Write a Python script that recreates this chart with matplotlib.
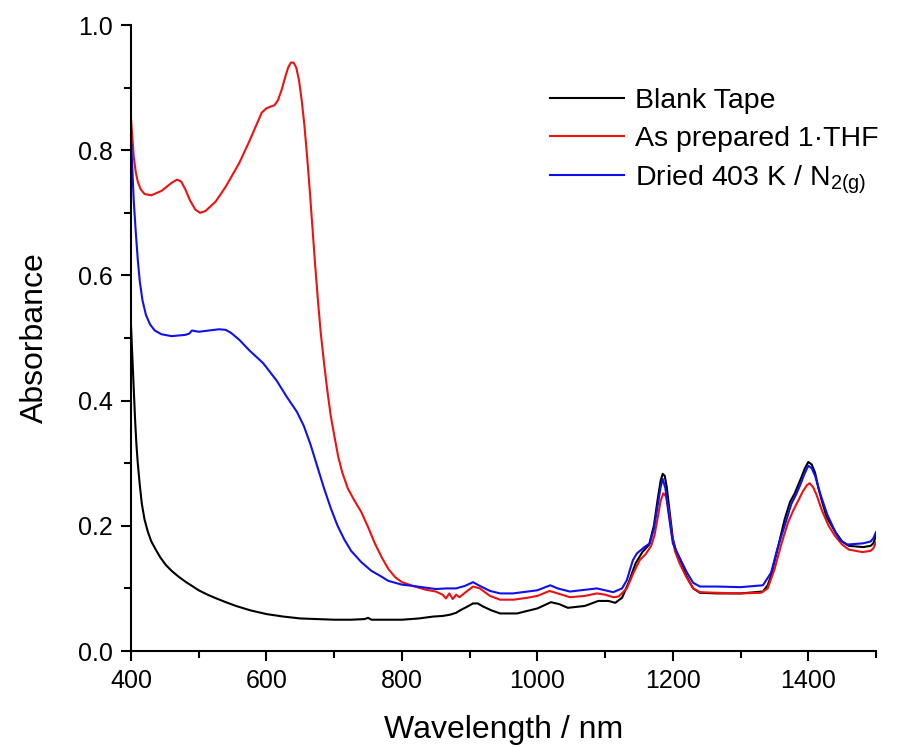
import matplotlib
matplotlib.use('Agg')
import matplotlib.pyplot as plt
from matplotlib.ticker import MultipleLocator

plt.rcParams['font.family'] = ['Liberation Sans', 'DejaVu Sans']
plt.rcParams['mathtext.fontset'] = 'custom'
plt.rcParams['mathtext.rm'] = 'Liberation Sans'
plt.rcParams['mathtext.it'] = 'Liberation Sans'

# blank tape spectrum
wl_blank = [400, 402, 404, 406, 408, 410, 413, 416, 420, 425, 430, 436, 443, 451, 460, 470,
            480, 490, 500, 513, 526, 540, 555, 576, 600, 625, 650, 675, 700, 725, 745, 750,
            755, 780, 800, 825, 846, 860, 871, 880, 886, 895, 905, 912, 920, 932, 945, 970,
            1000, 1020, 1032, 1045, 1070, 1090, 1105, 1115, 1125, 1135, 1145, 1155, 1165,
            1172, 1178, 1182, 1185, 1188, 1191, 1195, 1200, 1205, 1210, 1215, 1220, 1230,
            1240, 1265, 1300, 1333, 1340, 1345, 1354, 1365, 1373, 1380, 1385, 1390, 1395,
            1400, 1405, 1410, 1415, 1420, 1427, 1440, 1450, 1460, 1481, 1492, 1496, 1500]
abs_blank = [0.52, 0.47, 0.42, 0.37, 0.33, 0.30, 0.265, 0.235, 0.21, 0.19, 0.175, 0.163,
             0.15, 0.138, 0.128, 0.119, 0.111, 0.104, 0.097, 0.09, 0.084, 0.078, 0.072,
             0.065, 0.059, 0.055, 0.052, 0.051, 0.050, 0.050, 0.051, 0.053, 0.050, 0.050,
             0.050, 0.052, 0.055, 0.056, 0.058, 0.061, 0.065, 0.070, 0.076, 0.076, 0.071,
             0.065, 0.060, 0.060, 0.068, 0.078, 0.075, 0.069, 0.072, 0.080, 0.080, 0.077,
             0.085, 0.11, 0.14, 0.158, 0.170, 0.20, 0.245, 0.272, 0.283, 0.28, 0.262,
             0.225, 0.18, 0.158, 0.148, 0.135, 0.12, 0.10, 0.093, 0.092, 0.092, 0.095,
             0.105, 0.12, 0.16, 0.21, 0.238, 0.252, 0.265, 0.278, 0.292, 0.302, 0.298,
             0.285, 0.26, 0.24, 0.214, 0.19, 0.175, 0.168, 0.166, 0.168, 0.172, 0.184]

# as prepared 1·THF
wl_thf = [400, 402, 404, 407, 410, 414, 420, 430, 445, 460, 468, 474, 480, 487, 495, 502,
          510, 525, 540, 560, 575, 585, 593, 600, 607, 612, 617, 622, 628, 632, 636, 640,
          644, 648, 652, 656, 660, 664, 668, 672, 676, 680, 685, 690, 695, 700, 706, 712,
          720, 730, 740, 750, 760, 770, 780, 790, 800, 816, 835, 850, 860, 865, 870, 875,
          880, 885, 893, 905, 915, 930, 945, 965, 985, 1000, 1018, 1030, 1048, 1070, 1088,
          1100, 1112, 1120, 1132, 1142, 1151, 1160, 1168, 1173, 1178, 1182, 1186, 1190,
          1194, 1198, 1203, 1210, 1220, 1230, 1240, 1265, 1300, 1330, 1340, 1350, 1360,
          1370, 1378, 1385, 1392, 1398, 1402, 1407, 1412, 1420, 1430, 1440, 1450, 1460,
          1480, 1492, 1496, 1500]
abs_thf = [0.85, 0.82, 0.79, 0.765, 0.75, 0.738, 0.73, 0.728, 0.735, 0.748, 0.753, 0.75,
           0.738, 0.72, 0.705, 0.70, 0.703, 0.718, 0.742, 0.78, 0.815, 0.84, 0.86, 0.867,
           0.87, 0.872, 0.88, 0.895, 0.918, 0.932, 0.94, 0.94, 0.932, 0.912, 0.88, 0.84,
           0.79, 0.735, 0.675, 0.615, 0.56, 0.51, 0.46, 0.415, 0.375, 0.345, 0.31, 0.285,
           0.26, 0.24, 0.222, 0.198, 0.172, 0.15, 0.131, 0.118, 0.11, 0.104, 0.098, 0.095,
           0.09, 0.084, 0.092, 0.083, 0.09, 0.086, 0.093, 0.103, 0.10, 0.088, 0.082,
           0.082, 0.085, 0.088, 0.096, 0.092, 0.086, 0.088, 0.092, 0.09, 0.086, 0.087,
           0.10, 0.125, 0.145, 0.155, 0.168, 0.185, 0.215, 0.24, 0.252, 0.247, 0.225,
           0.19, 0.16, 0.14, 0.118, 0.10, 0.094, 0.093, 0.092, 0.093, 0.10, 0.13, 0.17,
           0.205, 0.225, 0.24, 0.255, 0.265, 0.268, 0.262, 0.25, 0.225, 0.2, 0.183, 0.17,
           0.162, 0.158, 0.16, 0.164, 0.174]

# dried at 403 K under N2
wl_dry = [400, 402, 404, 407, 410, 413, 417, 422, 428, 435, 445, 460, 480, 486, 490, 500,
          515, 530, 540, 548, 560, 575, 595, 615, 630, 645, 655, 665, 675, 685, 695, 705,
          715, 725, 740, 755, 768, 780, 800, 816, 850, 866, 880, 893, 905, 915, 930, 945,
          964, 1000, 1019, 1030, 1048, 1088, 1112, 1125, 1132, 1141, 1147, 1158, 1166,
          1172, 1178, 1182, 1185, 1189, 1193, 1200, 1210, 1221, 1230, 1240, 1265, 1300,
          1333, 1345, 1354, 1365, 1375, 1382, 1388, 1394, 1400, 1405, 1410, 1418, 1428,
          1440, 1447, 1457, 1481, 1492, 1496, 1500]
abs_dry = [0.82, 0.77, 0.72, 0.67, 0.625, 0.59, 0.56, 0.537, 0.522, 0.512, 0.506, 0.503,
           0.505, 0.507, 0.512, 0.51, 0.512, 0.514, 0.513, 0.508, 0.497, 0.48, 0.46, 0.432,
           0.406, 0.382, 0.36, 0.33, 0.295, 0.26, 0.228, 0.2, 0.178, 0.16, 0.142, 0.128,
           0.12, 0.112, 0.106, 0.104, 0.099, 0.10, 0.10, 0.104, 0.11, 0.104, 0.096, 0.092,
           0.092, 0.097, 0.105, 0.1, 0.095, 0.10, 0.094, 0.10, 0.113, 0.145, 0.156, 0.166,
           0.172, 0.195, 0.235, 0.262, 0.275, 0.26, 0.225, 0.172, 0.149, 0.125, 0.109,
           0.103, 0.103, 0.102, 0.105, 0.125, 0.162, 0.20, 0.235, 0.25, 0.265, 0.282,
           0.296, 0.292, 0.28, 0.25, 0.218, 0.19, 0.177, 0.17, 0.172, 0.175, 0.18, 0.19]

fig = plt.figure(figsize=(9.11, 7.47), dpi=100)
ax = fig.add_axes([0.1438, 0.1285, 0.8178, 0.838])

ax.plot(wl_blank, abs_blank, color='black', lw=1.5, label='Blank Tape')
ax.plot(wl_thf, abs_thf, color='#ee1111', lw=1.5, label='As prepared 1\u00b7THF')
ax.plot(wl_dry, abs_dry, color='#1010ee', lw=1.5, label='Dried 403 K / N$_{2(g)}$')

ax.set_xlim(400, 1500)
ax.set_ylim(0, 1.0)
ax.xaxis.set_major_locator(MultipleLocator(200))
ax.xaxis.set_minor_locator(MultipleLocator(100))
ax.yaxis.set_major_locator(MultipleLocator(0.2))
ax.yaxis.set_minor_locator(MultipleLocator(0.1))
ax.yaxis.set_major_formatter(plt.FuncFormatter(lambda v, p: f'{v:.1f}'))

for s in ['top', 'right']:
    ax.spines[s].set_visible(False)
for s in ['left', 'bottom']:
    ax.spines[s].set_linewidth(1.5)
ax.tick_params(which='major', direction='out', length=7, width=1.5, labelsize=18, pad=6)
ax.tick_params(which='minor', direction='out', length=5, width=1.5)

ax.set_xlabel('Wavelength / nm', fontsize=23, labelpad=16)
ax.set_ylabel('Absorbance', fontsize=23, labelpad=20)

ax.legend(loc='upper left', bbox_to_anchor=(0.562, 0.9), frameon=False, fontsize=20.5,
          handlelength=2.6, handletextpad=0.4, labelspacing=0.42, borderaxespad=0,
          borderpad=0)

fig.savefig('out.png', dpi=100)
